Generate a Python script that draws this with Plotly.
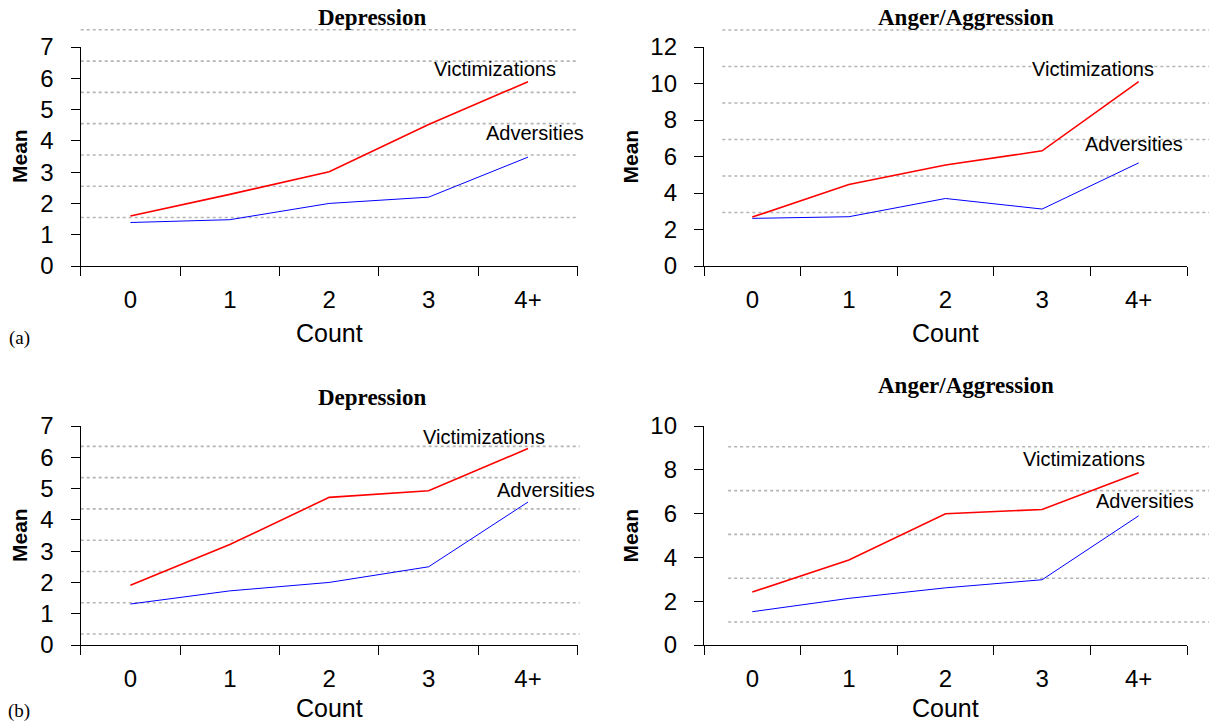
import plotly.graph_objects as go

cats = ["0", "1", "2", "3", "4+"]

a_dep_vict = [1.60, 2.29, 3.01, 4.52, 5.89]
a_dep_adv = [1.39, 1.48, 2.00, 2.20, 3.48]
a_ang_vict = [2.68, 4.47, 5.53, 6.31, 10.1]
a_ang_adv = [2.61, 2.70, 3.70, 3.12, 5.65]
b_dep_vict = [1.91, 3.21, 4.72, 4.93, 6.28]
b_dep_adv = [1.31, 1.73, 2.00, 2.50, 4.57]
b_ang_vict = [2.42, 3.88, 5.99, 6.19, 7.87]
b_ang_adv = [1.52, 2.13, 2.61, 2.98, 5.90]

grid_a_dep = [1.55, 2.55, 3.55, 4.55, 5.55, 6.55, 7.55]
grid_a_ang = [2.93, 4.93, 6.93, 8.93, 10.93, 12.93]
grid_b_dep = [0.35, 1.35, 2.35, 3.35, 4.35, 5.35, 6.35]
grid_b_ang = [1.05, 3.05, 5.05, 7.05, 9.05]

titles = ["Depression", "Anger/Aggression", "Depression", "Anger/Aggression"]
yranges = [[0, 7], [0, 12], [0, 7], [0, 10]]
ydticks = [1, 2, 1, 2]

SANS = "Liberation Sans, Arial, sans-serif"
SERIF = "Liberation Serif, Times New Roman, serif"

W, H = 1209, 722
xdom_L = [80.7 / W, 577.7 / W]
xdom_R = [704 / W, 1187 / W]
ydom_T = [1 - 266 / H, 1 - 47 / H]
ydom_B = [1 - 645 / H, 1 - 426 / H]

panels = [
    dict(vict=a_dep_vict, adv=a_dep_adv, grid=grid_a_dep, xd=xdom_L, yd=ydom_T,
         gx=[0.0, 1.0], vpos=(3.67, 6.30), apos=(4.07, 4.26), tpos=(372, 18),
         mean=(19.5, 156.5), count=(329, 333)),
    dict(vict=a_ang_vict, adv=a_ang_adv, grid=grid_a_ang, xd=xdom_R, yd=ydom_T,
         gx=[0.038, 1.05], vpos=(3.53, 10.78), apos=(3.955, 6.71), tpos=(966, 18),
         mean=(630, 156.5), count=(945.5, 333)),
    dict(vict=b_dep_vict, adv=b_dep_adv, grid=grid_b_dep, xd=xdom_L, yd=ydom_B,
         gx=[0.0, 1.004], vpos=(3.56, 6.66), apos=(4.18, 4.95), tpos=(372, 397),
         mean=(19.5, 535.5), count=(329, 708)),
    dict(vict=b_ang_vict, adv=b_ang_adv, grid=grid_b_ang, xd=xdom_R, yd=ydom_B,
         gx=[0.05, 1.05], vpos=(3.43, 8.48), apos=(4.06, 6.59), tpos=(966, 385),
         mean=(630, 535.5), count=(945.5, 708)),
]

fig = go.Figure()
shapes = []
annotations = []

for i, p in enumerate(panels):
    n = "" if i == 0 else str(i + 1)
    xa, ya = "x" + n, "y" + n
    fig.add_trace(go.Scatter(x=cats, y=p["adv"], mode="lines", xaxis=xa, yaxis=ya,
                             line=dict(color="#0000ff", width=1), showlegend=False,
                             name="Adversities"))
    fig.add_trace(go.Scatter(x=cats, y=p["vict"], mode="lines", xaxis=xa, yaxis=ya,
                             line=dict(color="#ff0000", width=1.6), showlegend=False,
                             name="Victimizations"))
    r0, r1 = yranges[i]
    for g in p["grid"]:
        shapes.append(dict(type="line", xref=xa + " domain", yref=ya + " domain",
                           x0=p["gx"][0], x1=p["gx"][1],
                           y0=(g - r0) / (r1 - r0), y1=(g - r0) / (r1 - r0),
                           line=dict(color="#b4b4b4", width=1.6, dash="dot"),
                           layer="below"))
    fig.layout["xaxis" + n] = dict(
        domain=p["xd"], anchor=ya, type="category", range=[-0.5, 4.5],
        tickson="boundaries", ticks="outside", ticklen=9, tickwidth=1.3,
        tickcolor="black", showline=True, linecolor="black", linewidth=1.4,
        showgrid=False, zeroline=False, ticklabelstandoff=12, automargin=False,
        tickfont=dict(family=SANS, size=24, color="black"),
    )
    fig.layout["yaxis" + n] = dict(
        domain=p["yd"], anchor=xa, range=yranges[i], dtick=ydticks[i], tick0=0,
        ticks="outside", ticklen=9, tickwidth=1.3, tickcolor="black",
        showline=True, linecolor="black", linewidth=1.4, showgrid=False,
        zeroline=False, ticklabelstandoff=12, automargin=False,
        tickfont=dict(family=SANS, size=24, color="black"),
    )
    annotations.append(dict(text="Victimizations", x=p["vpos"][0], y=p["vpos"][1],
                            xref=xa, yref=ya, showarrow=False, xanchor="center",
                            yanchor="middle",
                            font=dict(family=SANS, size=20, color="black")))
    annotations.append(dict(text="Adversities", x=p["apos"][0], y=p["apos"][1],
                            xref=xa, yref=ya, showarrow=False, xanchor="center",
                            yanchor="middle",
                            font=dict(family=SANS, size=20, color="black")))
    annotations.append(dict(text="<b>" + titles[i] + "</b>",
                            x=p["tpos"][0] / W, y=1 - p["tpos"][1] / H,
                            xref="paper", yref="paper", showarrow=False,
                            xanchor="center", yanchor="middle",
                            font=dict(family=SERIF, size=23, color="black")))
    annotations.append(dict(text="<b>Mean</b>", textangle=-90,
                            x=p["mean"][0] / W, y=1 - p["mean"][1] / H,
                            xref="paper", yref="paper", showarrow=False,
                            xanchor="center", yanchor="middle",
                            font=dict(family=SANS, size=21, color="black")))
    annotations.append(dict(text="Count",
                            x=p["count"][0] / W, y=1 - p["count"][1] / H,
                            xref="paper", yref="paper", showarrow=False,
                            xanchor="center", yanchor="middle",
                            font=dict(family=SANS, size=25, color="black")))

annotations.append(dict(text="(a)", x=19 / W, y=1 - 338 / H, xref="paper", yref="paper",
                        showarrow=False, xanchor="center", yanchor="middle",
                        font=dict(family=SERIF, size=19, color="black")))
annotations.append(dict(text="(b)", x=19 / W, y=1 - 711 / H, xref="paper", yref="paper",
                        showarrow=False, xanchor="center", yanchor="middle",
                        font=dict(family=SERIF, size=19, color="black")))

fig.update_layout(
    width=W, height=H, margin=dict(l=0, r=0, t=0, b=0, autoexpand=False),
    paper_bgcolor="white", plot_bgcolor="white",
    shapes=shapes, annotations=annotations, showlegend=False,
)

fig.write_html("out.html", config={"displayModeBar": False},
               post_script="document.body.style.margin='0px';document.body.style.overflow='hidden';")
